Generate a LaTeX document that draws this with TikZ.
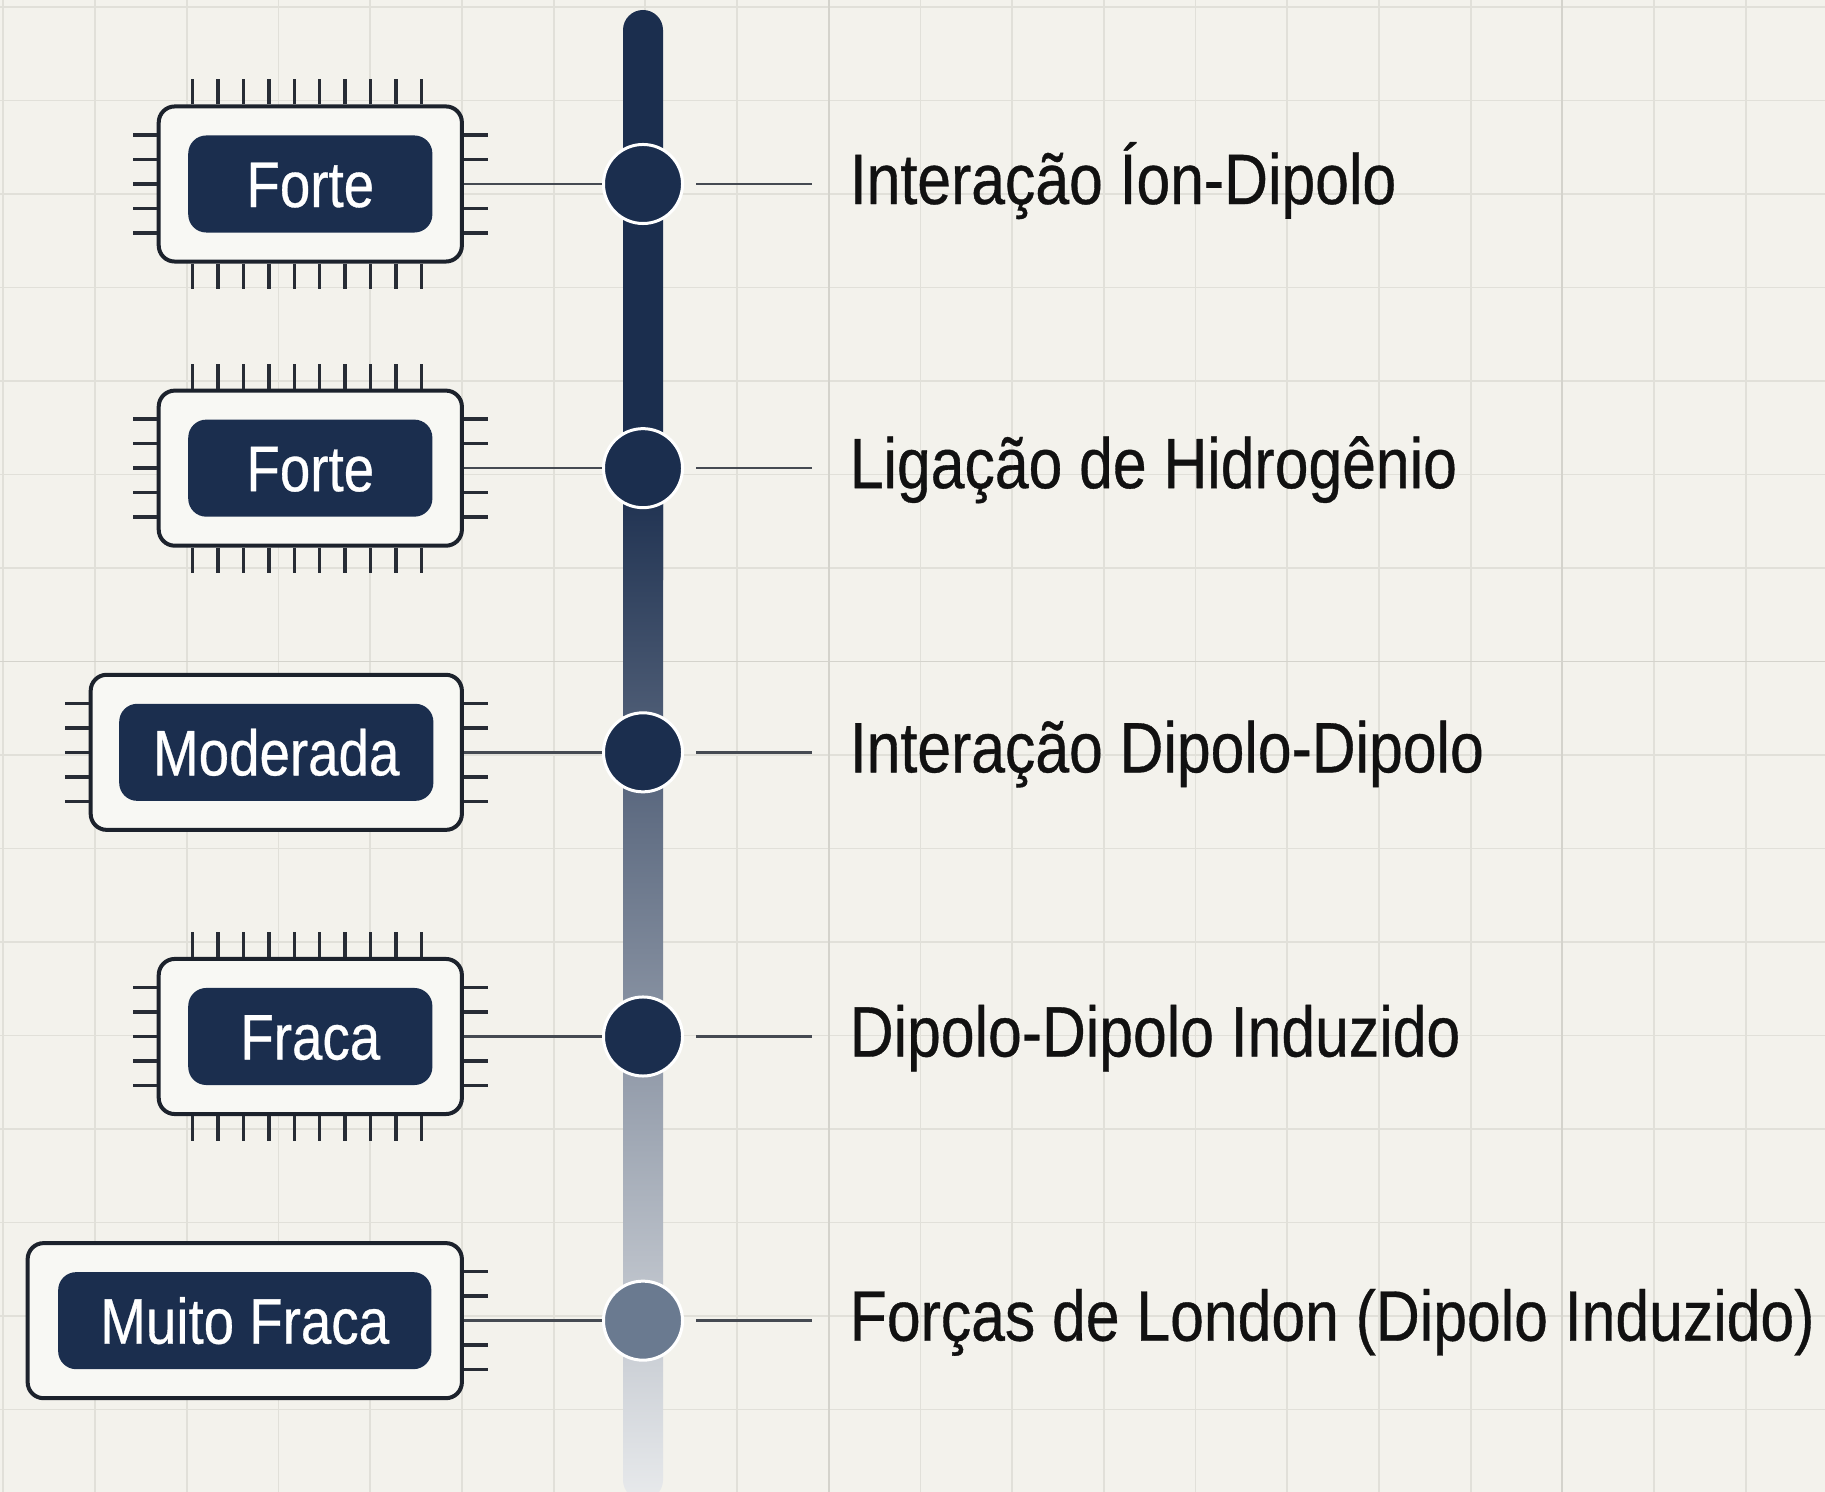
\documentclass[tikz,border=0pt]{standalone}
\usepackage{fontspec}
\setmainfont{Liberation Sans}[FakeStretch=0.85, FakeBold=0.5]
\usepackage{xcolor}
\usepackage{tikz}
\usetikzlibrary{positioning,calc}

\definecolor{paper}{HTML}{F3F2EC}
\definecolor{gridcol}{HTML}{E1E0D9}
\definecolor{gridbold}{HTML}{D4D3CC}
\definecolor{navy}{HTML}{1B2E4E}
\definecolor{barlight}{HTML}{E8EAEC}
\definecolor{dotlight}{HTML}{6A7A90}
\definecolor{chipline}{HTML}{1C222C}
\definecolor{chipfill}{HTML}{F8F8F4}
\definecolor{legcol}{HTML}{272C35}
\definecolor{linkcol}{HTML}{454A52}
\definecolor{ink}{HTML}{111111}

\begin{document}
\begin{tikzpicture}[x=0.01cm, y=-0.01cm,
    chip/.style={draw=chipline, line width=0.04cm, fill=chipfill, rounded corners=0.16cm, minimum height=1.55cm, inner sep=0},
    tag/.style={fill=navy, rounded corners=0.18cm, minimum height=0.97cm, inner sep=0, text=white, font=\fontsize{18.3}{20}\selectfont, text height=0.46cm, text depth=0cm},
    stage/.style={circle, fill=navy, draw=white, line width=0.03cm, minimum size=0.79cm, inner sep=0},
    legline/.style={draw=legcol, line width=0.035cm},
    link/.style={draw=linkcol, line width=0.025cm},
    lab/.style={font=\fontsize{20.3}{24}\selectfont, text=ink, text height=0.5cm, text depth=0.1cm, inner xsep=0.37cm, inner ysep=0, anchor=west},
    gridline/.style={draw=gridcol, line width=0.018cm}]

        % Paper and grid
        \fill[paper] (0,0) rectangle (1825,1492);
        \useasboundingbox (0,0) rectangle (1825,1492);
        \foreach \k in {0,...,19} \draw[gridline] ({3.4+91.7*\k},0) -- ({3.4+91.7*\k},1492);
        \foreach \k in {0,...,15} \draw[gridline] (0,{7+93.5*\k}) -- (1825,{7+93.5*\k});
        \draw[gridline, draw=gridbold] (828.7,0) -- (828.7,1492);
        \draw[gridline, draw=gridbold] (1562,0) -- (1562,1492);
        \draw[gridline, draw=gridbold] (0,661.5) -- (1825,661.5);

        % Strength bar
        \fill[navy, rounded corners=0.2cm] (623,10) rectangle (663,600);
        \shade[top color=navy, bottom color=barlight, rounded corners=0.2cm] (623,468) rectangle (663,1500);

        % Stages on the bar
        \node[stage] (dot1) at (643,184) {};
        \node[stage, below=2.02cm of dot1] (dot2) {};
        \node[stage, below=2.02cm of dot2] (dot3) {};
        \node[stage, below=2.02cm of dot3] (dot4) {};
        \node[stage, fill=dotlight, below=2.02cm of dot4] (dot5) {};

        % Strength chips
        \node[chip, minimum width=3.03cm, left=1.38cm of dot1] (chip1) {};
        \node[tag, minimum width=2.44cm] (tag1) at (chip1) {Forte};
        \node[chip, minimum width=3.03cm, left=1.38cm of dot2] (chip2) {};
        \node[tag, minimum width=2.44cm] (tag2) at (chip2) {Forte};
        \node[chip, minimum width=3.71cm, left=1.38cm of dot3] (chip3) {};
        \node[tag, minimum width=3.14cm] (tag3) at (chip3) {Moderada};
        \node[chip, minimum width=3.03cm, left=1.38cm of dot4] (chip4) {};
        \node[tag, minimum width=2.44cm] (tag4) at (chip4) {Fraca};
        \node[chip, minimum width=4.34cm, left=1.38cm of dot5] (chip5) {};
        \node[tag, minimum width=3.73cm] (tag5) at (chip5) {Muito Fraca};

        % Chip legs
        \foreach \c in {chip1,chip2,chip4} {
            \foreach \i in {0,...,9} {
                \draw[legline] ($(\c.north west)+(36+25.4*\i,0)$) -- ++(0,-25);
                \draw[legline] ($(\c.south west)+(36+25.4*\i,0)$) -- ++(0,25);
            }
        }
        \foreach \c in {chip1,chip2,chip3,chip4}
            \foreach \d in {-49,-24.5,0,24.5,49} \draw[legline] ($(\c.west)+(0,\d)$) -- ++(-24,0);
        \foreach \c in {chip1,chip2,chip3,chip4,chip5}
            \foreach \d in {-49,-24.5,24.5,49} \draw[legline] ($(\c.east)+(0,\d)$) -- ++(24,0);

        % Interaction labels
        \node[lab, right=1.28cm of dot1] (lab1) {Interação Íon-Dipolo};
        \node[lab, right=1.28cm of dot2] (lab2) {Ligação de Hidrogênio};
        \node[lab, right=1.28cm of dot3] (lab3) {Interação Dipolo-Dipolo};
        \node[lab, right=1.28cm of dot4] (lab4) {Dipolo-Dipolo Induzido};
        \node[lab, right=1.28cm of dot5] (lab5) {Forças de London (Dipolo Induzido)};

        % Connectors
        \foreach \n in {1,...,5} {
            \draw[link] (chip\n.east) -- (dot\n.west);
            \draw[link, shorten <=0.12cm] (dot\n.east) -- (lab\n.west);
        }
    \end{tikzpicture}
\end{document}
